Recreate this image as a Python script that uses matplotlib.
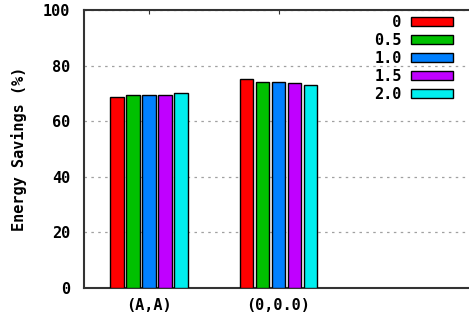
import numpy as np
import matplotlib
matplotlib.use('Agg')
import matplotlib.pyplot as plt

# Data
categories = ['(A,A)', '(0,0.0)']
series_labels = ['0', '0.5', '1.0', '1.5', '2.0']
savings = {
    '0':   [68.7, 75.2],
    '0.5': [69.4, 74.1],
    '1.0': [69.4, 74.1],
    '1.5': [69.4, 73.7],
    '2.0': [70.1, 73.0],
}
colors = ['#ff0000', '#00c000', '#0080ff', '#c000ff', '#00eeee']
yticks = [0, 20, 40, 60, 80, 100]

plt.rcParams['font.family'] = 'DejaVu Sans Mono'
plt.rcParams['font.weight'] = 'bold'
plt.rcParams['font.size'] = 11

fig = plt.figure(figsize=(4.69, 3.21), dpi=100)
ax = fig.add_axes([84 / 469, 33 / 321, 389 / 469, 278 / 321])

x = np.arange(len(categories))
width = 0.123
for i, lab in enumerate(series_labels):
    offs = (i - 2) * width
    ax.bar(x + offs, savings[lab], width * 0.86, color=colors[i],
           edgecolor='black', linewidth=1.0, label=lab.rjust(3), zorder=3)

ax.set_xlim(-0.5, 2.5)
ax.set_ylim(0, 100)
ax.set_xticks(x)
ax.set_xticklabels(categories, fontweight='bold')
ax.set_yticks(yticks)
ax.set_yticklabels([str(v) for v in yticks], fontweight='bold')
ax.tick_params(axis='y', length=0, pad=10)
ax.tick_params(axis='x', direction='in', top=True, length=3, pad=7, color='#333333')
ax.set_ylabel('Energy Savings (%)', fontweight='bold', labelpad=11)

ax.grid(axis='y', color='#a0a0a0', linestyle=(0, (2, 3.5)), linewidth=0.9, zorder=0)
for side in ['top', 'bottom', 'left']:
    ax.spines[side].set_linewidth(1.5)
    ax.spines[side].set_color('#333333')
ax.spines['right'].set_visible(False)

leg = ax.legend(loc='upper right', bbox_to_anchor=(453 / 469, 1 - 15 / 321),
                bbox_transform=fig.transFigure, frameon=False, markerfirst=False,
                handlelength=2.75, handleheight=0.54, handletextpad=0.6,
                labelspacing=0.2, borderpad=0, borderaxespad=0)
for t in leg.get_texts():
    t.set_fontweight('bold')

fig.savefig('out.png', dpi=100)
